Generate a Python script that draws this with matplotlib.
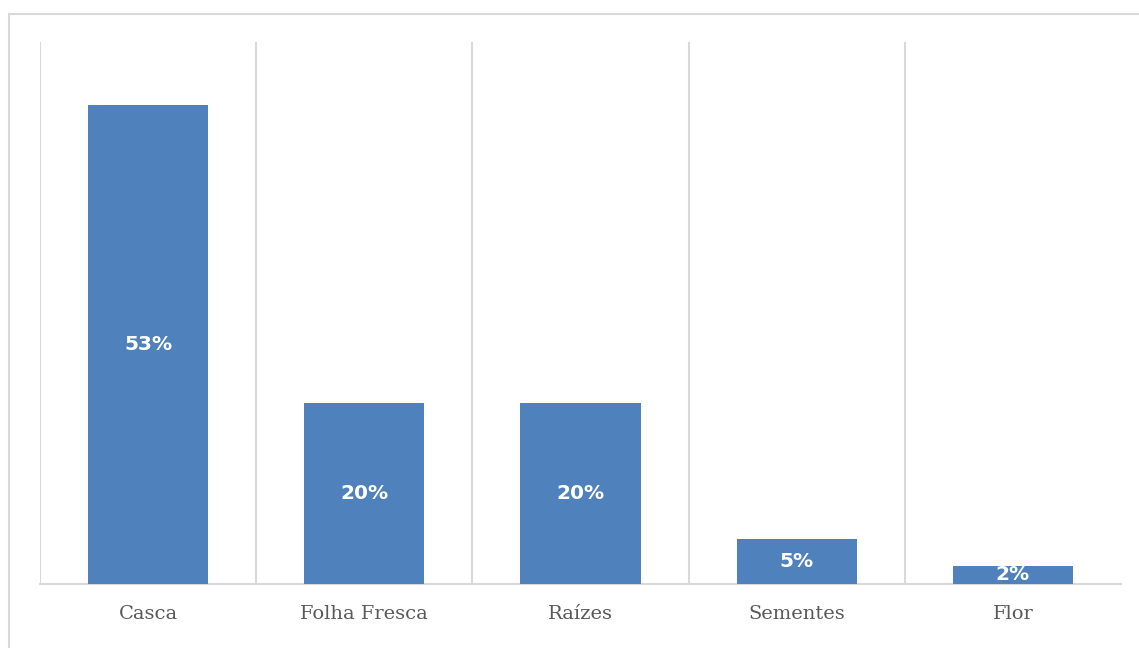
import matplotlib
matplotlib.use("Agg")
import matplotlib.pyplot as plt
from matplotlib.patches import Rectangle

categories = ["Casca", "Folha Fresca", "Raízes", "Sementes", "Flor"]
values = [53, 20, 20, 5, 2]
labels = ["53%", "20%", "20%", "5%", "2%"]

W, H = 1139, 648
fig = plt.figure(figsize=(W / 100, H / 100), dpi=100)
fig.patch.set_facecolor("white")
fig.add_artist(Rectangle((8.5 / W, -20 / H), (W + 40) / W, (H - 13.5 + 20) / H,
                         transform=fig.transFigure, fill=False,
                         edgecolor="#d9d9d9", linewidth=1.5))

ax = fig.add_axes([40 / W, (H - 584) / H, (1121 - 40) / W, (584 - 42) / H])
x = list(range(len(categories)))
bars = ax.bar(x, values, width=0.556, color="#4F81BD", zorder=3)
ax.set_xlim(-0.5, len(categories) - 0.5)
ax.set_ylim(0, 60)

for i in range(len(categories)):
    ax.axvline(i - 0.5, color="#d9d9d9", linewidth=1.5, zorder=1)

for b, lab in zip(bars, labels):
    ax.text(b.get_x() + b.get_width() / 2, b.get_height() / 2, lab,
            ha="center", va="center", color="white", fontsize=14.5,
            fontweight="bold", family="DejaVu Sans", zorder=4)

for s in ["top", "right", "left"]:
    ax.spines[s].set_visible(False)
ax.spines["bottom"].set_color("#d9d9d9")
ax.spines["bottom"].set_linewidth(1.5)
ax.set_yticks([])
ax.set_xticks(x)
ax.set_xticklabels(categories, family="DejaVu Serif", fontsize=14, color="#595959")
ax.tick_params(axis="x", length=0, pad=15)

fig.savefig("out.png", dpi=100)
